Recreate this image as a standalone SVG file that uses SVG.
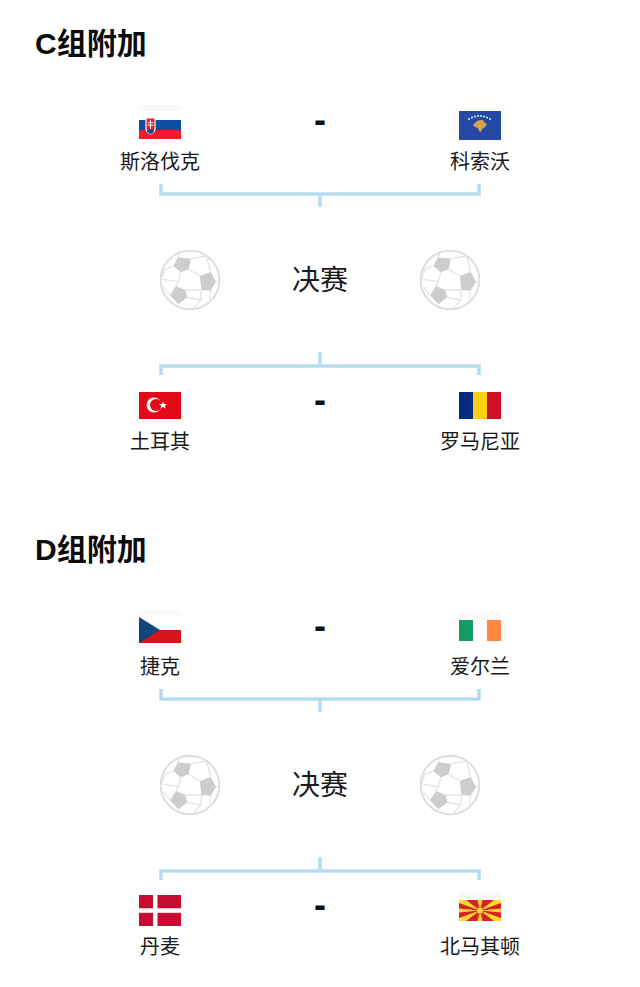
<svg xmlns="http://www.w3.org/2000/svg" width="640" height="987" viewBox="0 0 640 987">
<style>
text{font-family:"Liberation Sans","Noto Sans CJK SC",sans-serif;fill:#1a1a1a;text-anchor:middle}
.cjk{font-family:"Noto Sans CJK SC",sans-serif}
.h{font-size:30px;font-weight:700;text-anchor:start;fill:#0c0c0c}
.l{font-size:20px}
.f{font-size:28px}
.d{font-size:36px;font-weight:700;fill:#111}
.c{fill:none;stroke:#b6dbf1;stroke-width:3.5}
.halo{fill:#f9f9f9}
</style>
<defs>
<filter id="soft" x="-10%" y="-10%" width="120%" height="120%"><feGaussianBlur stdDeviation=".45"/></filter>
<g id="ball">
<g transform="translate(-40 -40) scale(.3333)" filter="url(#soft)">
<circle cx="120" cy="120" r="88" fill="#fff" stroke="#dedede" stroke-width="6"/>
<g fill="#cdcdcd">
<polygon points="84,52 123,56 116,88 92,97 70,78"/>
<polygon points="150,108 182,96 198,125 182,152 154,150"/>
<polygon points="78,138 106,150 112,172 85,193 60,166"/>
</g>
<path d="M84,52L90,38M123,56L170,48M70,78L45,88M45,88L32,125M116,88L150,108M92,97L85,125L78,138M106,150L154,150M154,150L152,180M182,96L170,48M198,125L207,125M182,152L178,178M112,172L152,180L130,205M85,193L82,198M60,166L40,140M85,125L40,118" fill="none" stroke="#e4e4e4" stroke-width="4"/>
</g>
</g>
</defs>
<rect width="640" height="987" fill="#fff"/>

<g id="connectors">
<path class="c" d="M161 184V194H479V184M320 194V207"/>
<path class="c" d="M161 375V366H479V375M320 366V352"/>
<path class="c" d="M161 689V699H479V689M320 699V712"/>
<path class="c" d="M161 880V871H479V880M320 871V857"/>
</g>

<g id="title-c"><text class="h" x="35" y="54">C<tspan class="cjk">组附加</tspan></text></g>
<g id="title-d"><text class="h" x="35" y="560">D<tspan class="cjk">组附加</tspan></text></g>

<g id="team-slovakia">
<rect class="halo" x="139" y="105" width="42" height="6"/>
<rect x="139" y="120" width="42" height="10" fill="#0b4ea2"/>
<rect x="139" y="130" width="42" height="9" fill="#ee1c25"/>
<path d="M146 118h9v11q0 3-4.500 5q-4.500-2-4.500-5z" fill="#ee1c25" stroke="#fff" stroke-width="1.200"/>
<path d="M150.500 120v9M148 122.500h5M147.500 125h6" stroke="#fff" stroke-width="1"/>
<path d="M147 131q3.500-3 7 0l-1 2-2.500 1-2.500-1z" fill="#0b4ea2"/>
<text class="l" x="160" y="169">斯洛伐克</text>
</g>
<g id="team-kosovo">
<rect x="459" y="111" width="42" height="29" fill="#244aa5"/>
<path d="M473 125l4-4 3-1 3 0 1 2 3 2-2 3-3 2-1 3-2-1-1-3-3-1z" fill="#d9a44e"/>
<g fill="#fff"><circle cx="469" cy="119" r=".9"/><circle cx="472" cy="117.500" r=".9"/><circle cx="475" cy="116.500" r=".9"/><circle cx="478" cy="116" r=".9"/><circle cx="481" cy="116" r=".9"/><circle cx="484" cy="116.500" r=".9"/><circle cx="487" cy="117.500" r=".9"/><circle cx="490" cy="119" r=".9"/></g>
<text class="l" x="480" y="169">科索沃</text>
</g>
<g id="score-c1"><text class="d" x="320" y="132">-</text></g>

<g id="final-c">
<use href="#ball" x="190" y="280"/>
<use href="#ball" x="450" y="280"/>
<text class="f" x="320" y="290">决赛</text>
</g>

<g id="team-turkey">
<rect x="139" y="392" width="42" height="27" fill="#e30a17"/>
<circle cx="154" cy="405" r="7.500" fill="#fff"/>
<circle cx="156" cy="405" r="6" fill="#e30a17"/>
<polygon points="163,401.500 164,404 167,404 164.800,405.800 165.600,408.500 163,407 160.400,408.500 161.200,405.800 159,404 162,404" fill="#fff"/>
<text class="l" x="160" y="449">土耳其</text>
</g>
<g id="team-romania">
<rect x="459" y="392" width="14" height="27" fill="#002b7f"/>
<rect x="473" y="392" width="14" height="27" fill="#fcd116"/>
<rect x="487" y="392" width="14" height="27" fill="#ce1126"/>
<text class="l" x="480" y="449">罗马尼亚</text>
</g>
<g id="score-c2"><text class="d" x="320" y="412">-</text></g>

<g id="team-czech">
<rect class="halo" x="139" y="610" width="42" height="6"/>
<rect x="139" y="630" width="42" height="13" fill="#d7141a"/>
<polygon points="139,617 160,630 139,643" fill="#11457e"/>
<text class="l" x="160" y="674">捷克</text>
</g>
<g id="team-ireland">
<rect class="halo" x="459" y="612" width="42" height="7"/>
<rect x="459" y="620" width="14" height="21" fill="#169b62"/>
<rect x="487" y="620" width="14" height="21" fill="#ff883e"/>
<text class="l" x="480" y="674">爱尔兰</text>
</g>
<g id="score-d1"><text class="d" x="320" y="638">-</text></g>

<g id="final-d">
<use href="#ball" x="190" y="785"/>
<use href="#ball" x="450" y="785"/>
<text class="f" x="320" y="795">决赛</text>
</g>

<g id="team-denmark">
<rect x="139" y="895" width="42" height="31" fill="#c60c30"/>
<rect x="153" y="895" width="4.500" height="31" fill="#fff"/>
<rect x="139" y="908.300" width="42" height="4.500" fill="#fff"/>
<text class="l" x="160" y="954">丹麦</text>
</g>
<g id="team-macedonia">
<rect class="halo" x="459" y="892" width="42" height="7"/>
<rect x="459" y="900" width="42" height="21" fill="#d82126"/>
<g fill="#f8d92e">
<polygon points="459,900 466,900 480,910.500 459,903"/>
<polygon points="501,900 494,900 480,910.500 501,903"/>
<polygon points="459,921 466,921 480,910.500 459,918"/>
<polygon points="501,921 494,921 480,910.500 501,918"/>
<polygon points="477.500,900 482.500,900 480,910.500"/>
<polygon points="477.500,921 482.500,921 480,910.500"/>
<polygon points="459,908.500 459,912.500 480,910.500"/>
<polygon points="501,908.500 501,912.500 480,910.500"/>
<circle cx="480" cy="910.500" r="3.500" stroke="#d82126" stroke-width=".6"/>
</g>
<text class="l" x="480" y="954">北马其顿</text>
</g>
<g id="score-d2"><text class="d" x="320" y="917">-</text></g>
</svg>
